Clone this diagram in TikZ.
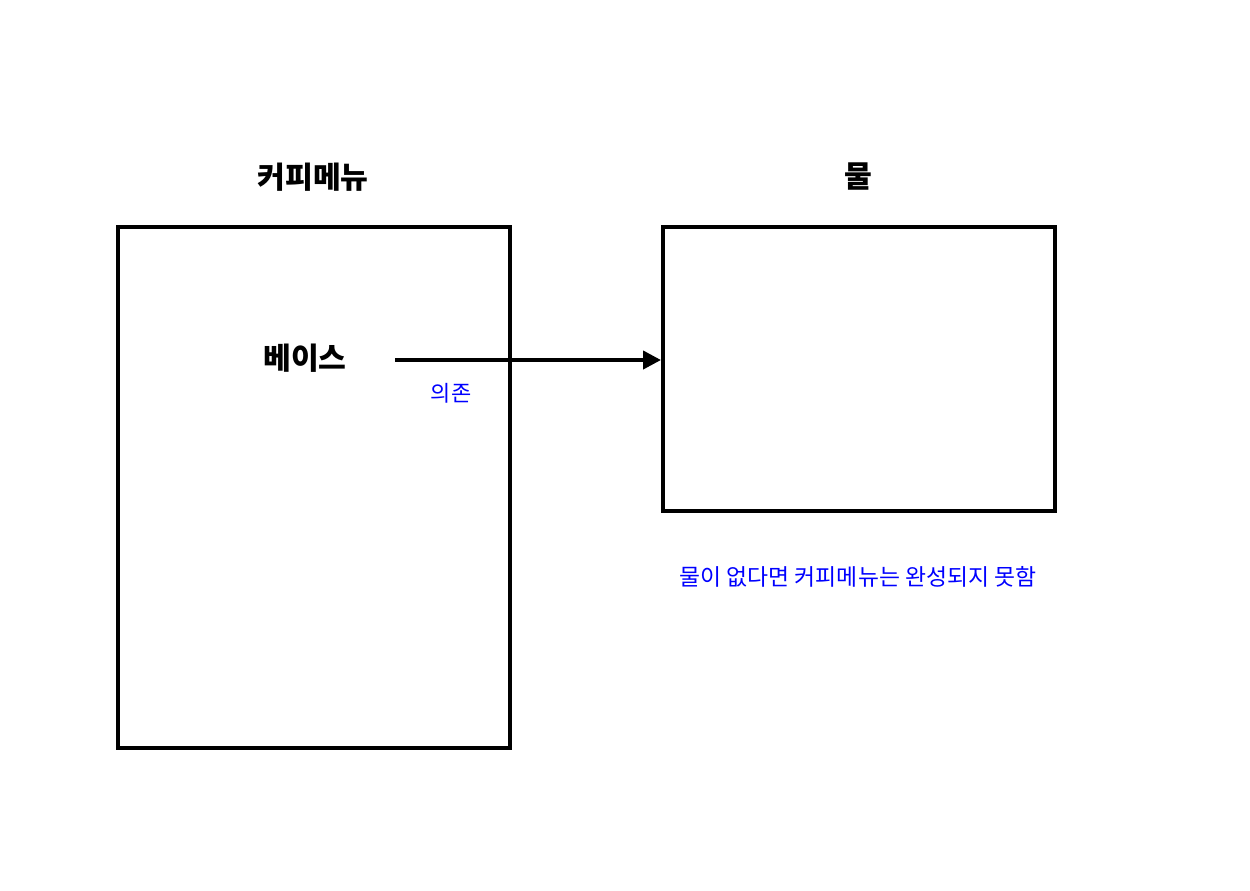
\documentclass[tikz,border=0pt]{standalone}
\usepackage{fontspec}
\setmainfont{Noto Sans CJK KR}
\usepackage{xcolor}
\definecolor{cLine}{HTML}{000000}
\definecolor{cNote}{HTML}{0000FF}
\usepackage{tikz}
\usetikzlibrary{positioning,arrows.meta}
\tikzset{
  node-frame/.style={draw=cLine,line width=2.3pt,minimum width=7.84cm,inner sep=0pt},
  node-title/.style={font=\bfseries\fontsize{17.2}{20}\selectfont},
  node-note/.style={text=cNote,font=\fontsize{13}{15}\selectfont},
  node-tag/.style={text=cNote,font=\fontsize{12.5}{14}\selectfont},
  arrow/.style={-{Triangle[length=3.6mm,width=3.6mm]},line width=2.3pt,draw=cLine},
}

\begin{document}
\begin{tikzpicture}[x=0.02cm,y=-0.02cm]
  \useasboundingbox (0,0) rectangle (1250,890);
  % two frames
  \node[node-frame,minimum height=10.42cm] (coffee) at (314,487.5) {};
  \node[node-frame,minimum height=5.68cm] (water) at (859,369) {};
  \node[node-title] (coffee-title) at (313,177) {커피메뉴};
  \node[node-title] (water-title) at (858,177) {물};
  \node[node-title] (base) at (305,358) {베이스};
  % dependency
  \coordinate (dep-start) at (395,360);
  \draw[arrow] (dep-start) -- (water.west |- dep-start);
  \node[node-tag] (dep) at (451,393) {의존};
  \node[node-note] (water-note) at (858,577) {물이 없다면 커피메뉴는 완성되지 못함};
\end{tikzpicture}
\end{document}
